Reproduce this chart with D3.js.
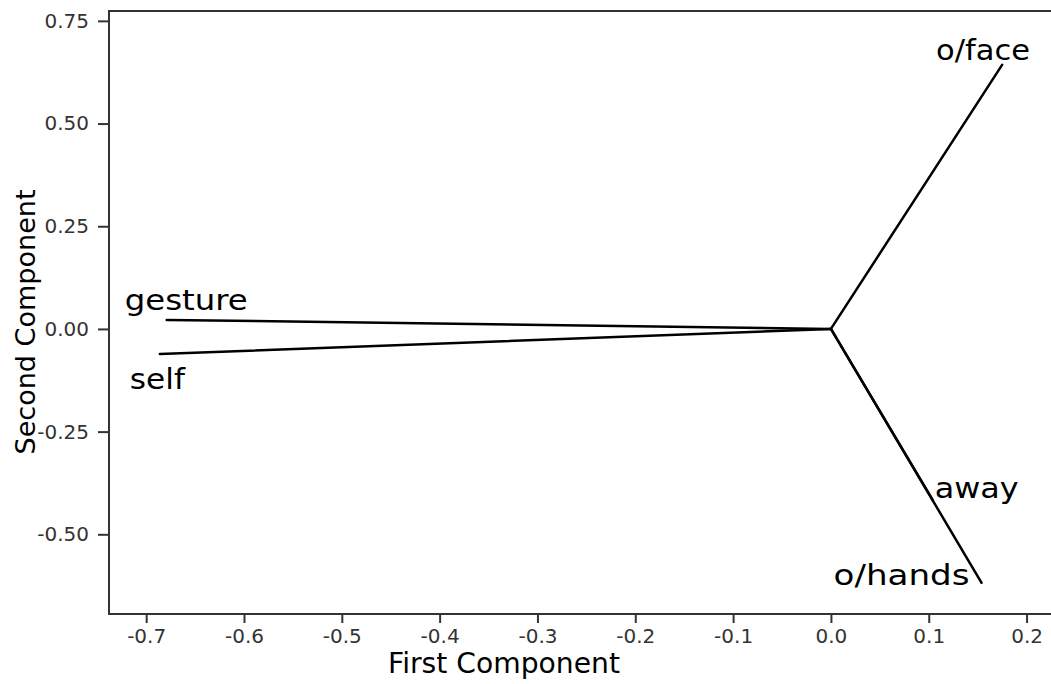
<!DOCTYPE html>
<html>
<head>
<meta charset="utf-8">
<script src="https://cdn.jsdelivr.net/npm/d3@7"></script>
<style>
  html, body { margin: 0; padding: 0; background: #fff; }
  svg { display: block; }
</style>
</head>
<body>
<svg id="chart" width="1051" height="684"></svg>
<script>
// Component loadings for each variable
const variables = ["gesture", "self", "o/face", "away", "o/hands"];
const firstComponent = [-0.679, -0.686, 0.175, 0.104, 0.154];
const secondComponent = [0.022, -0.061, 0.643, -0.416, -0.618];

// Tick values
const xTicks = [-0.7, -0.6, -0.5, -0.4, -0.3, -0.2, -0.1, 0.0, 0.1, 0.2];
const yTicks = [-0.50, -0.25, 0.00, 0.25, 0.50, 0.75];

// Label placement relative to the end of each loading line (pixels)
const labelStyle = {
  "gesture": { dx: -42, dy: -10, anchor: "start", len: 123 },
  "self":    { dx: -30, dy: 35,  anchor: "start", len: 55 },
  "o/face":  { dx: -66, dy: -5,  anchor: "start", len: 94 },
  "away":    { dx: 2,   dy: -2,  anchor: "start", len: 84 },
  "o/hands": { dx: -12, dy: 2,   anchor: "end",   len: 136 }
};

const svg = d3.select("#chart");
const plotLeft = 109, plotRight = 1052, plotTop = 11, plotBottom = 614;

const x = d3.scaleLinear().domain([-0.738, 0.226]).range([plotLeft, plotRight]);
const y = d3.scaleLinear().domain([-0.694, 0.774]).range([plotBottom, plotTop]);

const locale = d3.formatLocale({ decimal: ".", thousands: ",", grouping: [3], currency: ["", ""], minus: "-" });

// Frame
svg.append("rect")
  .attr("x", plotLeft).attr("y", plotTop)
  .attr("width", plotRight - plotLeft).attr("height", plotBottom - plotTop)
  .attr("fill", "none").attr("stroke", "#333").attr("stroke-width", 2);

// Axes
const xAxis = svg.append("g")
  .attr("transform", `translate(0,${plotBottom})`)
  .call(d3.axisBottom(x).tickValues(xTicks).tickFormat(locale.format(".1f")).tickSize(9).tickPadding(6));
const yAxis = svg.append("g")
  .attr("transform", `translate(${plotLeft},0)`)
  .call(d3.axisLeft(y).tickValues(yTicks).tickFormat(locale.format(".2f")).tickSize(11).tickPadding(9));

[xAxis, yAxis].forEach(g => {
  g.attr("font-size", null);
  g.select(".domain").remove();
  g.selectAll(".tick line").attr("stroke", "#333").attr("stroke-width", 2);
  g.selectAll(".tick text")
    .attr("fill", "#333")
    .attr("font-family", "DejaVu Sans, sans-serif")
    .attr("font-size", 20);
});

// Loading lines from the origin
const data = variables.map((v, i) => ({ name: v, px: firstComponent[i], py: secondComponent[i] }));

svg.append("g").selectAll("line")
  .data(data)
  .join("line")
  .attr("x1", x(0)).attr("y1", y(0))
  .attr("x2", d => x(d.px)).attr("y2", d => y(d.py))
  .attr("stroke", "#000").attr("stroke-width", 2.5).attr("stroke-linecap", "round");

// Variable labels
svg.append("g").selectAll("text")
  .data(data)
  .join("text")
  .attr("x", d => x(d.px) + labelStyle[d.name].dx)
  .attr("y", d => y(d.py) + labelStyle[d.name].dy)
  .attr("text-anchor", d => labelStyle[d.name].anchor)
  .attr("textLength", d => labelStyle[d.name].len)
  .attr("lengthAdjust", "spacingAndGlyphs")
  .style("font-family", "'DejaVu Sans', sans-serif")
  .style("font-size", "29px")
  .attr("fill", "#000")
  .text(d => d.name);

// Axis titles
svg.append("text")
  .attr("x", 504).attr("y", 673)
  .attr("text-anchor", "middle")
  .attr("textLength", 232).attr("lengthAdjust", "spacingAndGlyphs")
  .style("font-family", "'DejaVu Sans', sans-serif")
  .style("font-size", "28px")
  .text("First Component");

svg.append("text")
  .attr("transform", "translate(35,322) rotate(-90)")
  .attr("text-anchor", "middle")
  .attr("textLength", 265).attr("lengthAdjust", "spacingAndGlyphs")
  .style("font-family", "'DejaVu Sans', sans-serif")
  .style("font-size", "27px")
  .text("Second Component");
</script>
</body>
</html>
